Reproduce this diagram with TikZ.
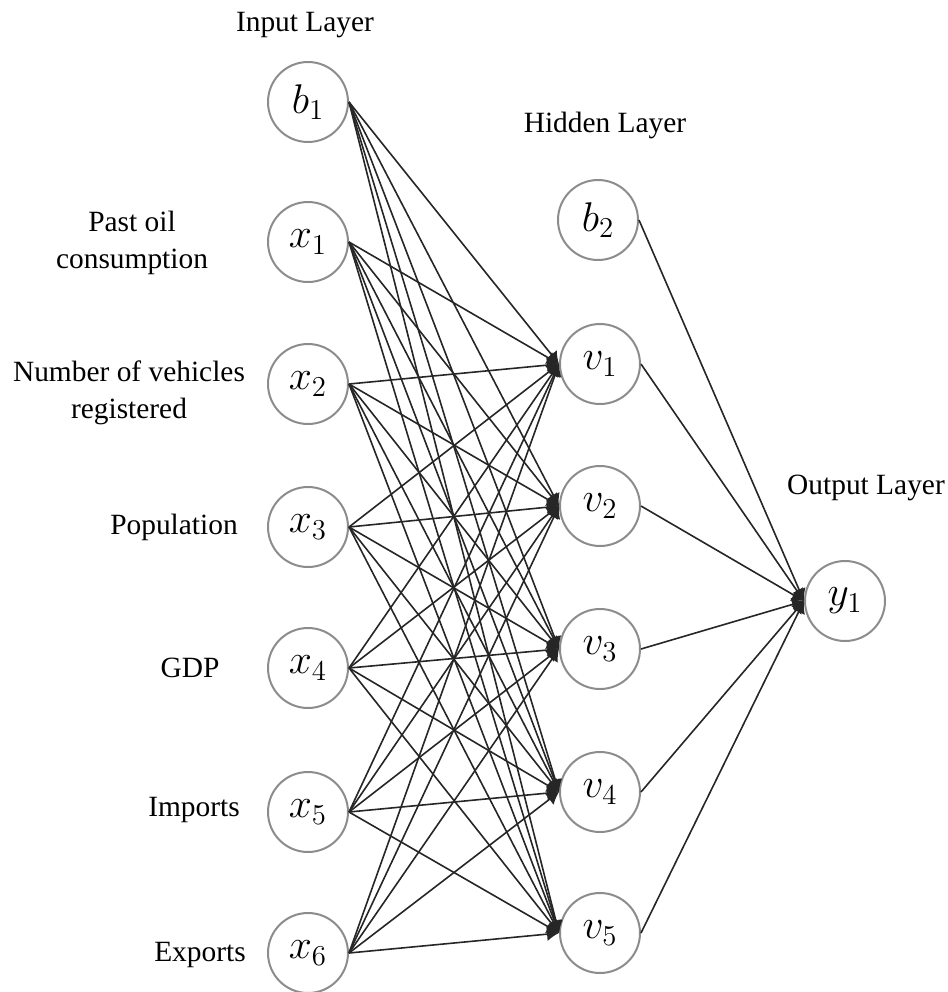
\documentclass[tikz,border=0pt]{standalone}
\usepackage{fontspec}
\setmainfont{Liberation Serif}
\usetikzlibrary{arrows.meta}
\begin{document}
\begin{tikzpicture}[x=0.5pt,y=-0.5pt,
  neuron/.style={circle,draw=black!45,line width=1pt,minimum size=40pt,inner sep=0pt,
    font=\fontsize{20.74}{24}\selectfont},
  lbl/.style={font=\fontsize{14.7}{18.5}\selectfont,align=center,text=black},
  conn/.style={draw=black!85,line width=0.8pt},
  arr/.style={conn,-{Latex[length=6pt,width=7pt]}}]
\useasboundingbox (0,0) rectangle (948,992);

% layer titles
\node[lbl] (tin)  at (305,25)  {Input Layer};
\node[lbl] (thid) at (605,125) {Hidden Layer};
\node[lbl] (tout) at (866,488) {Output Layer};

% input layer
\node[neuron] (b1) at (308,102) {$b_1$};
\node[neuron] (x1) at (308,242) {$x_1$};
\node[neuron] (x2) at (308,384) {$x_2$};
\node[neuron] (x3) at (308,527) {$x_3$};
\node[neuron] (x4) at (308,668) {$x_4$};
\node[neuron] (x5) at (308,812) {$x_5$};
\node[neuron] (x6) at (308,953) {$x_6$};

% input labels
\node[lbl] (l1) at (132,243) {Past oil\\consumption};
\node[lbl] (l2) at (129,393) {Number of vehicles\\registered};
\node[lbl] (l3) at (174,527) {Population};
\node[lbl] (l4) at (190,668) {GDP};
\node[lbl] (l5) at (194,810) {Imports};
\node[lbl] (l6) at (200,955) {Exports};

% hidden layer
\node[neuron] (b2) at (598,220) {$b_2$};
\node[neuron] (v1) at (600,364) {$v_1$};
\node[neuron] (v2) at (600,506) {$v_2$};
\node[neuron] (v3) at (600,649) {$v_3$};
\node[neuron] (v4) at (600,792) {$v_4$};
\node[neuron] (v5) at (600,933) {$v_5$};

% output layer
\node[neuron] (y1) at (845,601) {$y_1$};

% connections
\foreach \i in {b1,x1,x2,x3,x4,x5,x6}
  \foreach \j in {v1,v2,v3,v4,v5}
    \draw[arr] (\i.east) -- (\j.west);
\foreach \j in {b2,v1,v2,v3,v4,v5}
  \draw[arr] (\j.east) -- (y1.west);
\end{tikzpicture}
\end{document}
